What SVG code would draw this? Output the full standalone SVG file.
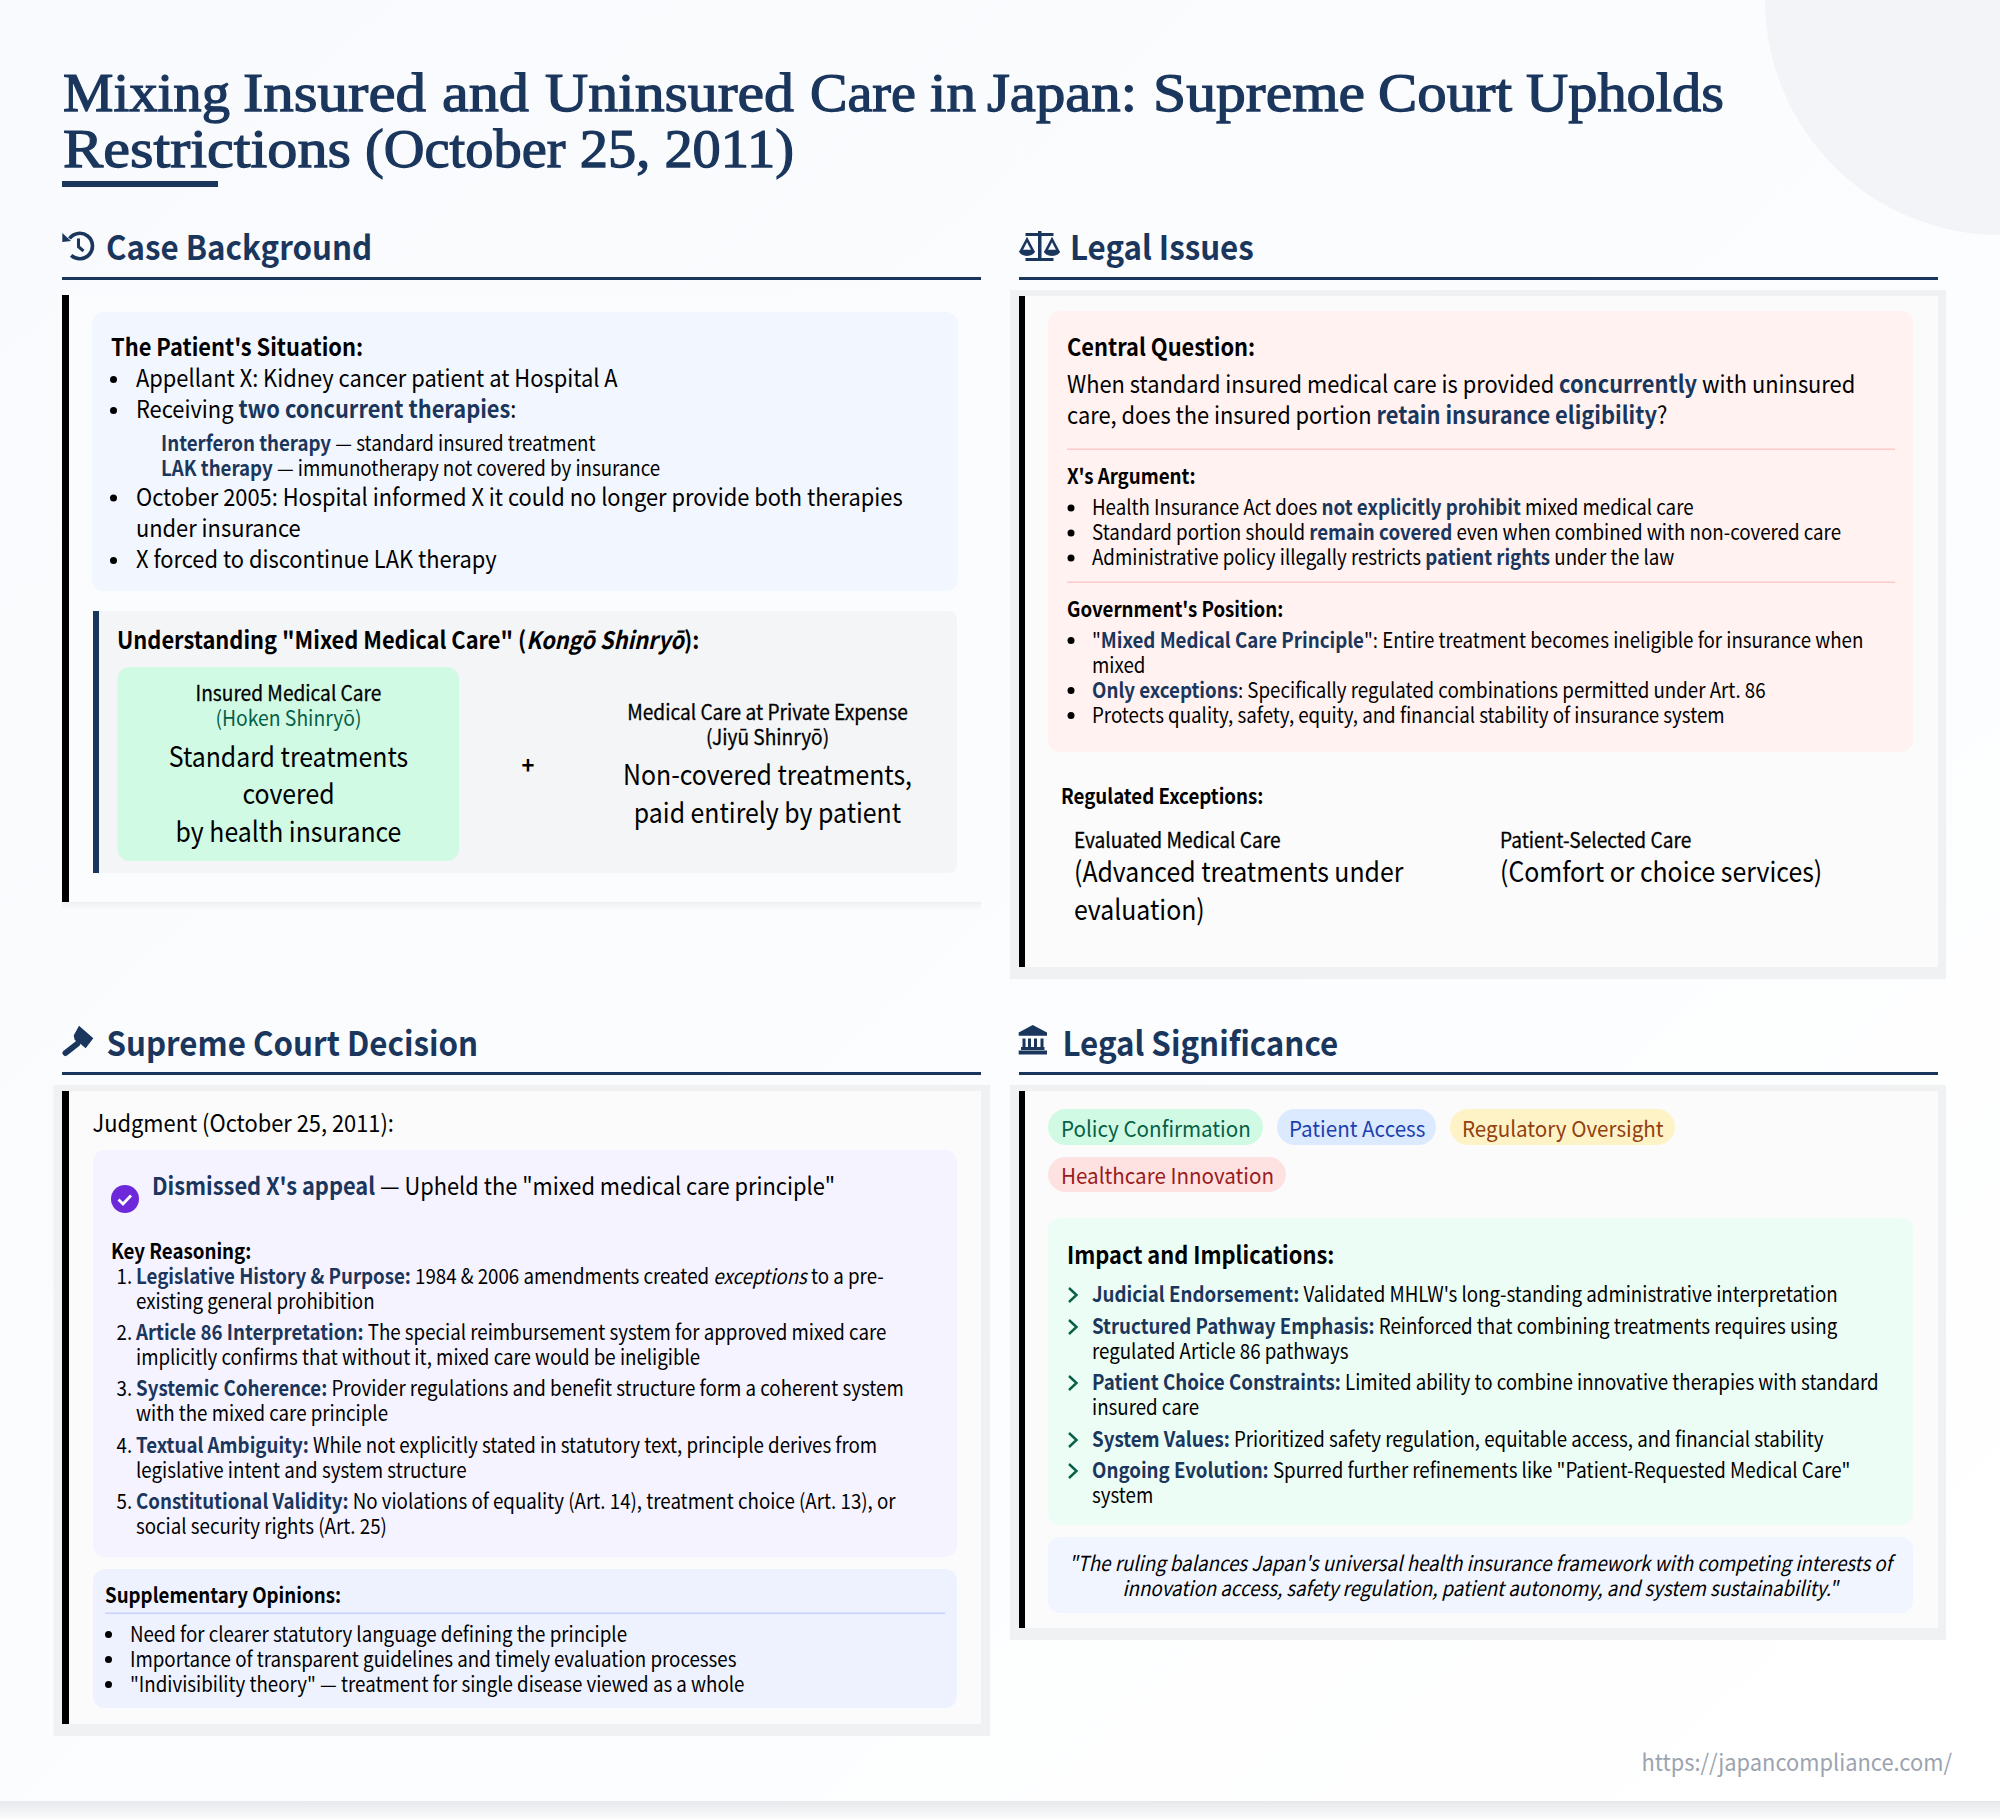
<svg xmlns="http://www.w3.org/2000/svg" width="2000" height="1819" viewBox="0 0 2000 1819">
<style>
text{font-family:"Noto Sans CJK JP","Noto Sans",sans-serif;fill:#000;transform-box:fill-box;transform-origin:0 50%}
.t{font-family:"Liberation Serif",serif;font-weight:400;font-size:55px;fill:#1a365d;stroke:#1a365d;stroke-width:1.25px}
.h{font-weight:700;font-size:33.3px;fill:#1a365d;transform:scaleX(.94)}
.xl{font-size:28px;transform:scaleX(.887)}
.l{font-size:24px;transform:scaleX(.911)}
.m{font-size:20.8px;transform:scaleX(.9)}
.mm{font-size:20.8px;stroke:#000;stroke-width:.3px;transform:scaleX(.92)}
.pill{font-size:22px;transform:scaleX(.937)}
.foot{font-size:23px;fill:#9ca3af;text-anchor:end;transform:scaleX(.95);transform-origin:100% 50%}
.sb{font-weight:700}
.s{font-weight:700;fill:#1a365d}
.c{text-anchor:middle;transform-origin:50% 50%}
.i{fill:#1a365d}
.rule{fill:#1a365d}
.bar{fill:#000}
.dot{fill:#000}
.chev{fill:none;stroke:#065f46;stroke-width:2.4}
.ic{fill:none;stroke:#1a365d}
</style>
<defs>
<linearGradient id="bg" x1="0" y1="0" x2="1" y2="1"><stop offset="0" stop-color="#f8fafd"/><stop offset="1" stop-color="#ffffff"/></linearGradient>
<linearGradient id="bot" x1="0" y1="0" x2="0" y2="1"><stop offset="0" stop-color="#e6e8eb"/><stop offset="1" stop-color="#fbfbfc"/></linearGradient>
<linearGradient id="sh" x1="0" y1="0" x2="0" y2="1"><stop offset="0" stop-color="#eff0f2"/><stop offset="1" stop-color="#fbfcfd"/></linearGradient>
</defs>
<rect width="2000" height="1819" fill="url(#bg)"/>
<rect y="1801" width="2000" height="18" fill="url(#bot)"/>
<circle cx="2000" cy="0" r="235" fill="#f2f4f7"/>

<g id="title">
<text class="t" y="111"><tspan x="63" textLength="167" lengthAdjust="spacingAndGlyphs">Mixing</tspan> <tspan x="243" textLength="183" lengthAdjust="spacingAndGlyphs">Insured</tspan> <tspan x="442" textLength="87" lengthAdjust="spacingAndGlyphs">and</tspan> <tspan x="545" textLength="249" lengthAdjust="spacingAndGlyphs">Uninsured</tspan> <tspan x="810" textLength="106" lengthAdjust="spacingAndGlyphs">Care</tspan> <tspan x="930" textLength="46" lengthAdjust="spacingAndGlyphs">in</tspan> <tspan x="987" textLength="150" lengthAdjust="spacingAndGlyphs">Japan:</tspan> <tspan x="1153" textLength="212" lengthAdjust="spacingAndGlyphs">Supreme</tspan> <tspan x="1378" textLength="134" lengthAdjust="spacingAndGlyphs">Court</tspan> <tspan x="1526" textLength="198" lengthAdjust="spacingAndGlyphs">Upholds</tspan></text>
<text class="t" y="167"><tspan x="63" textLength="288" lengthAdjust="spacingAndGlyphs">Restrictions</tspan> <tspan x="365" textLength="429" lengthAdjust="spacingAndGlyphs">(October 25, 2011)</tspan></text>
<rect class="rule" x="62" y="181" width="156" height="6"/>
</g>

<g id="case-background">
<path class="ic" stroke-width="3.600" d="M69.500 238.500A12.700 12.700 0 1 1 71.200 255.400"/>
<path class="i" d="M62.300 233L62.300 242L71 241Z"/>
<path class="ic" stroke-width="3" d="M78.500 238.500V246.700L83.500 251"/>
<text class="h" x="106" y="260">Case Background</text>
<rect class="rule" x="62" y="277" width="919" height="3"/>
<rect x="62" y="902" width="919" height="9" fill="url(#sh)"/>
<rect x="62" y="295" width="919" height="607" fill="#fbfcfd"/>
<rect class="bar" x="62" y="295" width="7" height="607"/>
<rect x="92" y="312" width="866" height="279" rx="12" fill="#f2f6fe"/>
<text class="l sb" x="111" y="356">The Patient's Situation:</text>
<circle class="dot" cx="113.500" cy="379.500" r="3.500"/><text class="l" x="136" y="387.500">Appellant X: Kidney cancer patient at Hospital A</text>
<circle class="dot" cx="113.500" cy="410.500" r="3.500"/><text class="l" x="136" y="418.500">Receiving <tspan class="s">two concurrent therapies</tspan>:</text>
<text class="m" x="161" y="451.500"><tspan class="s">Interferon therapy</tspan> — standard insured treatment</text>
<text class="m" x="161" y="476"><tspan class="s">LAK therapy</tspan> — immunotherapy not covered by insurance</text>
<circle class="dot" cx="113.500" cy="498" r="3.500"/><text class="l" x="136" y="506">October 2005: Hospital informed X it could no longer provide both therapies</text>
<text class="l" x="136" y="537.500">under insurance</text>
<circle class="dot" cx="113.500" cy="560.500" r="3.500"/><text class="l" x="136" y="568.500">X forced to discontinue LAK therapy</text>
<rect x="93" y="611" width="864" height="262" rx="8" fill="#f4f5f7"/>
<rect class="rule" x="93" y="611" width="6" height="262"/>
<text class="l sb" x="117" y="649">Understanding "Mixed Medical Care" (<tspan font-style="italic">Kongo&#x304; Shinryo&#x304;</tspan>):</text>
<rect x="117.500" y="667" width="341.500" height="194" rx="12" fill="#d1fae5"/>
<text class="mm c" x="288.500" y="701">Insured Medical Care</text>
<text class="m c" x="288.500" y="726" style="fill:#065f46;transform:scaleX(.93)">(Hoken Shinryo&#x304;)</text>
<text class="xl c" x="288.500" y="767">Standard treatments</text>
<text class="xl c" x="288.500" y="804">covered</text>
<text class="xl c" x="288.500" y="842">by health insurance</text>
<text class="l sb c" x="528" y="774">+</text>
<text class="mm c" x="767.500" y="720">Medical Care at Private Expense</text>
<text class="mm c" x="767.500" y="745">(Jiyu&#x304; Shinryo&#x304;)</text>
<text class="xl c" x="767.500" y="785">Non-covered treatments,</text>
<text class="xl c" x="767.500" y="823">paid entirely by patient</text>
</g>

<g id="legal-issues">
<path class="i" d="M1038 231h3.500v2h12v3h-12v22h12v3h-28v-3h12.500v-22h-12.500v-3h12.500z"/>
<path class="ic" stroke-width="2.600" d="M1027 239.500l-6 11.500h12zM1052 239.500l-6 11.500h12z"/>
<path class="i" d="M1019.300 251h15.400a7.700 5 0 0 1-15.400 0zM1044 251h16a8 5 0 0 1-16 0z"/>
<text class="h" x="1070" y="260">Legal Issues</text>
<rect class="rule" x="1019" y="277" width="919" height="3"/>
<rect x="1010" y="290" width="936" height="689" fill="#f0f1f3"/>
<rect x="1019" y="296" width="919" height="671" fill="#fbfbfc"/>
<rect class="bar" x="1019" y="296" width="6" height="671"/>
<rect x="1048" y="311" width="865" height="441" rx="12" fill="#fff2f0"/>
<text class="l sb" x="1067" y="356">Central Question:</text>
<text class="l" x="1067" y="392.600">When standard insured medical care is provided <tspan class="s">concurrently</tspan> with uninsured</text>
<text class="l" x="1067" y="424">care, does the insured portion <tspan class="s">retain insurance eligibility</tspan>?</text>
<rect x="1067" y="448.500" width="828" height="1.500" fill="#fecaca"/>
<text class="m sb" x="1067" y="484">X's Argument:</text>
<circle class="dot" cx="1071" cy="508" r="3.500"/><text class="m" x="1092" y="515">Health Insurance Act does <tspan class="s">not explicitly prohibit</tspan> mixed medical care</text>
<circle class="dot" cx="1071" cy="533" r="3.500"/><text class="m" x="1092" y="540.400">Standard portion should <tspan class="s">remain covered</tspan> even when combined with non-covered care</text>
<circle class="dot" cx="1071" cy="558" r="3.500"/><text class="m" x="1092" y="565">Administrative policy illegally restricts <tspan class="s">patient rights</tspan> under the law</text>
<rect x="1067" y="581.500" width="828" height="1.500" fill="#fecaca"/>
<text class="m sb" x="1067" y="616.700">Government's Position:</text>
<circle class="dot" cx="1071" cy="640.500" r="3.500"/><text class="m" x="1092" y="648">"<tspan class="s">Mixed Medical Care Principle</tspan>": Entire treatment becomes ineligible for insurance when</text>
<text class="m" x="1092" y="673">mixed</text>
<circle class="dot" cx="1071" cy="690.500" r="3.500"/><text class="m" x="1092" y="698"><tspan class="s">Only exceptions</tspan>: Specifically regulated combinations permitted under Art. 86</text>
<circle class="dot" cx="1071" cy="715.500" r="3.500"/><text class="m" x="1092" y="723">Protects quality, safety, equity, and financial stability of insurance system</text>
<text class="m sb" x="1061" y="804">Regulated Exceptions:</text>
<text class="mm" x="1074" y="848">Evaluated Medical Care</text>
<text class="xl" x="1074" y="882.500">(Advanced treatments under</text>
<text class="xl" x="1074" y="920">evaluation)</text>
<text class="mm" x="1500" y="848">Patient-Selected Care</text>
<text class="xl" x="1500" y="882.500">(Comfort or choice services)</text>
</g>

<g id="supreme-court-decision">
<path class="i" d="M79 1025.700l14.300 12.600-7.600 10-4.500-3.700-6.500-4.500-1-4.500z"/>
<path class="ic" stroke-width="6" stroke-linecap="round" d="M65.500 1053L77 1044"/>
<text class="h" x="106.500" y="1056">Supreme Court Decision</text>
<rect class="rule" x="62" y="1072" width="919" height="3"/>
<rect x="53.500" y="1085" width="936.500" height="651" fill="#f0f1f3"/>
<rect x="62" y="1091" width="919" height="633" fill="#fbfbfc"/>
<rect class="bar" x="62" y="1091" width="7" height="633"/>
<text class="l" x="92.500" y="1132">Judgment (October 25, 2011):</text>
<rect x="93" y="1150" width="864" height="407" rx="12" fill="#f5f3ff"/>
<circle cx="125" cy="1199" r="14" fill="#6d28d9"/>
<path fill="none" stroke="#fff" stroke-width="2.800" d="M118.500 1199.500l4.500 4.500 8-8.500"/>
<text class="l" x="152" y="1195.500"><tspan class="s">Dismissed X's appeal</tspan> — Upheld the "mixed medical care principle"</text>
<text class="m sb" x="111" y="1259">Key Reasoning:</text>
<text class="m" x="116.500" y="1284">1.</text><text class="m" x="136" y="1284"><tspan class="s">Legislative History &amp; Purpose:</tspan> 1984 &amp; 2006 amendments created <tspan font-style="italic">exceptions</tspan> to a pre-</text>
<text class="m" x="136" y="1309">existing general prohibition</text>
<text class="m" x="116.500" y="1340">2.</text><text class="m" x="136" y="1340"><tspan class="s">Article 86 Interpretation:</tspan> The special reimbursement system for approved mixed care</text>
<text class="m" x="136" y="1365">implicitly confirms that without it, mixed care would be ineligible</text>
<text class="m" x="116.500" y="1396">3.</text><text class="m" x="136" y="1396"><tspan class="s">Systemic Coherence:</tspan> Provider regulations and benefit structure form a coherent system</text>
<text class="m" x="136" y="1421">with the mixed care principle</text>
<text class="m" x="116.500" y="1453">4.</text><text class="m" x="136" y="1453"><tspan class="s">Textual Ambiguity:</tspan> While not explicitly stated in statutory text, principle derives from</text>
<text class="m" x="136" y="1478">legislative intent and system structure</text>
<text class="m" x="116.500" y="1509">5.</text><text class="m" x="136" y="1509"><tspan class="s">Constitutional Validity:</tspan> No violations of equality (Art. 14), treatment choice (Art. 13), or</text>
<text class="m" x="136" y="1534">social security rights (Art. 25)</text>
<rect x="93" y="1569" width="864" height="139" rx="12" fill="#eef2ff"/>
<text class="m sb" x="105" y="1603">Supplementary Opinions:</text>
<rect x="105" y="1612.500" width="840" height="1.500" fill="#c7d2fe"/>
<circle class="dot" cx="108.500" cy="1634.500" r="3.500"/><text class="m" x="130" y="1642">Need for clearer statutory language defining the principle</text>
<circle class="dot" cx="108.500" cy="1659.500" r="3.500"/><text class="m" x="130" y="1667">Importance of transparent guidelines and timely evaluation processes</text>
<circle class="dot" cx="108.500" cy="1684.500" r="3.500"/><text class="m" x="130" y="1692">"Indivisibility theory" — treatment for single disease viewed as a whole</text>
</g>

<g id="legal-significance">
<path class="i" d="M1032.700 1025l14.300 7.500v3.200h-28.300v-3.200zM1018.700 1050.500h28.300v4h-28.300zM1021 1047h23.500v3h-23.500zM1022.500 1038.500h3v8.500h-3zM1028 1038.500h3v8.500h-3zM1034 1038.500h3v8.500h-3zM1040.500 1038.500h3v8.500h-3z"/>
<text class="h" x="1062.500" y="1056">Legal Significance</text>
<rect class="rule" x="1019" y="1072" width="919" height="3"/>
<rect x="1010" y="1085" width="936" height="555" fill="#f0f1f3"/>
<rect x="1019" y="1091" width="919" height="537" fill="#fbfbfc"/>
<rect class="bar" x="1019" y="1091" width="6" height="537"/>
<rect x="1048" y="1109" width="215" height="36" rx="18" fill="#d1fae5"/>
<text class="pill" x="1061" y="1137.500" style="fill:#065f46">Policy Confirmation</text>
<rect x="1277" y="1109" width="159" height="36" rx="18" fill="#dbeafe"/>
<text class="pill" x="1289" y="1137.500" style="fill:#1e40af">Patient Access</text>
<rect x="1450" y="1109" width="225" height="36" rx="18" fill="#fef3c7"/>
<text class="pill" x="1462" y="1137.500" style="fill:#92400e">Regulatory Oversight</text>
<rect x="1048" y="1157" width="238" height="35" rx="17.500" fill="#fee2e2"/>
<text class="pill" x="1061" y="1184.500" style="fill:#991b1b">Healthcare Innovation</text>
<rect x="1048" y="1218" width="865" height="307" rx="12" fill="#ecfdf5"/>
<text class="l sb" x="1067" y="1264.500">Impact and Implications:</text>
<path class="chev" d="M1069 1288l7.500 7-7.500 7"/><text class="m" x="1092" y="1302.500"><tspan class="s">Judicial Endorsement:</tspan> Validated MHLW's long-standing administrative interpretation</text>
<path class="chev" d="M1069 1320l7.500 7-7.500 7"/><text class="m" x="1092" y="1334.500"><tspan class="s">Structured Pathway Emphasis:</tspan> Reinforced that combining treatments requires using</text>
<text class="m" x="1092" y="1359.500">regulated Article 86 pathways</text>
<path class="chev" d="M1069 1376l7.500 7-7.500 7"/><text class="m" x="1092" y="1390.500"><tspan class="s">Patient Choice Constraints:</tspan> Limited ability to combine innovative therapies with standard</text>
<text class="m" x="1092" y="1415.500">insured care</text>
<path class="chev" d="M1069 1433l7.500 7-7.500 7"/><text class="m" x="1092" y="1447.500"><tspan class="s">System Values:</tspan> Prioritized safety regulation, equitable access, and financial stability</text>
<path class="chev" d="M1069 1464l7.500 7-7.500 7"/><text class="m" x="1092" y="1478.500"><tspan class="s">Ongoing Evolution:</tspan> Spurred further refinements like "Patient-Requested Medical Care"</text>
<text class="m" x="1092" y="1503.500">system</text>
<rect x="1048" y="1537" width="865" height="76" rx="12" fill="#f0f5ff"/>
<text class="m c" x="1480" y="1571.500" font-style="italic">"The ruling balances Japan's universal health insurance framework with competing interests of</text>
<text class="m c" x="1480" y="1596.500" font-style="italic">innovation access, safety regulation, patient autonomy, and system sustainability."</text>
</g>

<g id="footer">
<text class="foot" x="1952" y="1771">https://japancompliance.com/</text>
</g>
</svg>
